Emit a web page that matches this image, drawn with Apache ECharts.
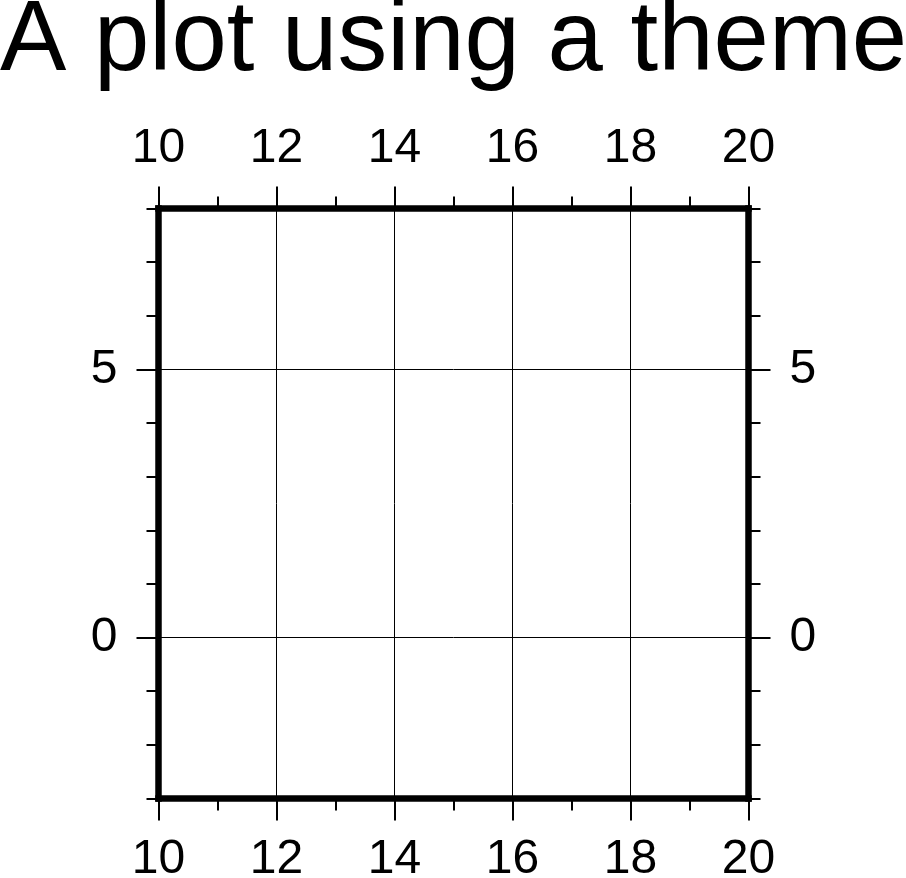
<!DOCTYPE html>
<html>
<head>
<meta charset="utf-8">
<script src="https://cdn.jsdelivr.net/npm/echarts@6/dist/echarts.min.js"></script>
<style>
html,body{margin:0;padding:0;background:#fff;}
#chart{width:906px;height:878px;}
</style>
</head>
<body>
<div id="chart"></div>
<script>
var titleText = "A plot using a theme";
var xRange = [10, 20];
var yRange = [-3, 8];
var xMajorTicks = [10, 12, 14, 16, 18, 20];
var xMinorTicks = [10, 11, 12, 13, 14, 15, 16, 17, 18, 19, 20];
var yMajorTicks = [0, 5];
var yMinorTicks = [-3, -2, -1, 0, 1, 2, 3, 4, 5, 6, 7, 8];

var FONT = '"Liberation Sans", Helvetica, Arial, sans-serif';
var chart = echarts.init(document.getElementById('chart'), null, {renderer: 'canvas'});

function majorX(pos, margin, grid) {
  return {
    type: 'value', position: pos, min: xRange[0], max: xRange[1], interval: 2,
    axisLine: {show: true, onZero: false, lineStyle: {color: '#000', width: 6.5, cap: 'square'}},
    axisTick: {show: true, inside: false, length: 22, customValues: xMajorTicks, lineStyle: {color: '#000', width: 2}},
    axisLabel: {show: true, margin: margin, customValues: xMajorTicks, color: '#000', fontSize: 48, fontFamily: FONT},
    splitLine: {show: grid, lineStyle: {color: '#000', width: 1}},
    minorTick: {show: false}
  };
}
function minorX(pos) {
  return {
    type: 'value', position: pos, min: xRange[0], max: xRange[1], interval: 1,
    axisLine: {show: false, onZero: false},
    axisTick: {show: true, inside: false, length: 12, customValues: xMinorTicks, lineStyle: {color: '#000', width: 2}},
    axisLabel: {show: false},
    splitLine: {show: false}
  };
}
function majorY(pos, margin, grid) {
  return {
    type: 'value', position: pos, min: yRange[0], max: yRange[1],
    axisLine: {show: true, onZero: false, lineStyle: {color: '#000', width: 6.5, cap: 'square'}},
    axisTick: {show: true, inside: false, length: 22, customValues: yMajorTicks, lineStyle: {color: '#000', width: 2}},
    axisLabel: {show: true, margin: margin, customValues: yMajorTicks, color: '#000', fontSize: 48, fontFamily: FONT},
    splitLine: {show: grid, lineStyle: {color: '#000', width: 1}},
    minorTick: {show: false}
  };
}
function minorY(pos) {
  return {
    type: 'value', position: pos, min: yRange[0], max: yRange[1], interval: 1,
    axisLine: {show: false, onZero: false},
    axisTick: {show: true, inside: false, length: 12, customValues: yMinorTicks, lineStyle: {color: '#000', width: 2}},
    axisLabel: {show: false},
    splitLine: {show: false}
  };
}

var option = {
  backgroundColor: '#fff',
  animation: false,
  grid: {left: 158.5, top: 208.5, width: 590, height: 590, containLabel: false, outerBoundsMode: 'none', show: false},
  graphic: [{
    type: 'text', x: 0, y: -7, z: 10,
    style: {text: titleText, fill: '#000', fontSize: 99.5, fontFamily: FONT}
  }],
  xAxis: [minorX('bottom'), minorX('top'), majorX('bottom', 37, true), majorX('top', 35.5, false)],
  yAxis: [minorY('left'), minorY('right'), majorY('left', 41, true), majorY('right', 41, false)],
  series: [
    {type: 'scatter', xAxisIndex: 2, yAxisIndex: 2, data: [], symbolSize: 0},
    {type: 'scatter', xAxisIndex: 3, yAxisIndex: 3, data: [], symbolSize: 0}
  ]
};
chart.setOption(option);
</script>
</body>
</html>
